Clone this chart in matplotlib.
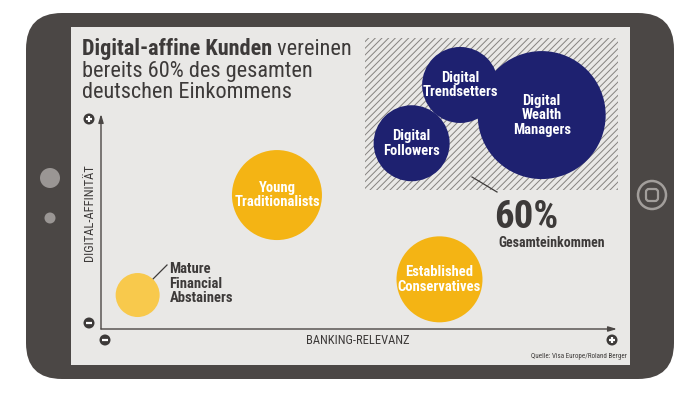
import numpy as np
import matplotlib
matplotlib.use('Agg')
import matplotlib.pyplot as plt
from matplotlib.patches import Rectangle, Circle, FancyBboxPatch

#---------------------------------- DATA -----------------------------------
segments = ['Mature\nFinancial\nAbstainers', 'Young\nTraditionalists', 'Established\nConservatives',
            'Digital\nFollowers', 'Digital\nTrendsetters', 'Digital\nWealth\nManagers']
banking = [7.1, 34.1, 65.6, 60.2, 69.6, 85.4]        # BANKING-RELEVANZ (0-100)
digital = [15.8, 62.3, 23.1, 86.4, 113.5, 99.5]      # DIGITAL-AFFINITAET (0-100)
bubble = [22, 45, 43, 38, 38, 64]                    # relative bubble radius
group = ['light', 'yellow', 'yellow', 'navy', 'navy', 'navy']

title_bold = 'Digital-affine Kunden'
title_rest = [' vereinen', 'bereits 60% des gesamten', 'deutschen Einkommens']
share = '60%'
share_label = 'Gesamteinkommen'
xlabel = 'BANKING-RELEVANZ'
ylabel = 'DIGITAL-AFFINITÄT'
source = 'Quelle: Visa Europe/Roland Berger'

#---------------------------------- SETTING -----------------------------------
plt.rcParams['font.family'] = ['Roboto Condensed', 'DejaVu Sans']
plt.rcParams['hatch.linewidth'] = 0.7
body_c = '#4b4745'
screen_c = '#e9e8e6'
text_c = '#3d3a39'
cols = {'light': '#f8c94c', 'yellow': '#f4b414', 'navy': '#1e2170'}

fig = plt.figure(figsize=(7, 3.93), dpi=100)
fig.patch.set_facecolor('white')

# background axes in pixel units
bg = fig.add_axes([0, 0, 1, 1])
bg.set_xlim(0, 700)
bg.set_ylim(393, 0)
bg.axis('off')

# tablet
bg.add_patch(FancyBboxPatch((26, 13), 648, 366, boxstyle='round,pad=0,rounding_size=36',
                            fc=body_c, ec='none'))
bg.add_patch(Rectangle((71, 27), 559, 338, fc=screen_c, ec='none'))
bg.add_patch(Circle((50, 178), 10, fc='#9a9694', ec='none'))
bg.add_patch(Circle((50, 218), 5.5, fc='#9a9694', ec='none'))
bg.add_patch(Circle((652, 195), 14, fc='none', ec='#a29e9b', lw=1.8))
bg.add_patch(FancyBboxPatch((646, 189), 12, 12, boxstyle='round,pad=0,rounding_size=3',
                            fc='none', ec='#a29e9b', lw=1.6))

# hatched area
bg.add_patch(Rectangle((365, 38), 253, 152, fc=screen_c, ec='#85827f', lw=0, hatch='/////'))

# title
t1 = bg.text(82, 49, title_bold, fontsize=16, fontweight='bold', color=text_c, va='center', ha='left')
bg.annotate(title_rest[0], xy=(1, 0), xycoords=t1, va='bottom', ha='left', fontsize=16, color=text_c)
bg.text(82, 71, title_rest[1], fontsize=16, color=text_c, va='center', ha='left')
bg.text(82, 93, title_rest[2], fontsize=16, color=text_c, va='center', ha='left')

# plus / minus icons
def icon(x, y, plus):
    bg.add_patch(Circle((x, y), 5.5, fc=text_c, ec='none'))
    bg.plot([x - 3, x + 3], [y, y], color='white', lw=1.6, solid_capstyle='butt')
    if plus:
        bg.plot([x, x], [y - 3, y + 3], color='white', lw=1.6, solid_capstyle='butt')

icon(89, 119, True)
icon(89, 323, False)
icon(105, 340, False)
icon(612, 340, True)

bg.text(89, 213, ylabel, rotation=90, fontsize=9, color=text_c, ha='center', va='center')
bg.text(358, 340, xlabel, fontsize=9, color=text_c, ha='center', va='center')
bg.text(627, 357, source, fontsize=5, color=text_c, ha='right', va='center')

# leader lines
bg.plot([143, 167], [289, 265], color=text_c, lw=0.9)
bg.plot([472, 497], [177, 192], color=text_c, lw=0.9)
bg.text(494, 218, share, fontsize=28, fontweight='bold', color=text_c, ha='left', va='center')
bg.text(498, 243, share_label, fontsize=10, fontweight='bold', color=text_c, ha='left', va='center')

#------------------------------------ plot -----------------------------------
ax = fig.add_axes([101 / 700, 64 / 393, 516 / 700, 215 / 393])
ax.set_xlim(0, 100)
ax.set_ylim(0, 100)
ax.axis('off')
ax.patch.set_alpha(0)

sizes = [(2 * r * 0.72) ** 2 for r in bubble]
ax.scatter(banking, digital, s=sizes, c=[cols[g] for g in group], linewidths=0, clip_on=False, zorder=3)

for kk, name in enumerate(segments):
    if group[kk] == 'light':
        ax.annotate(name, (banking[kk], digital[kk]), xytext=(23, 8), textcoords='offset points',
                    fontsize=10.5, fontweight='bold', color=text_c, ha='left', va='center',
                    linespacing=1.05, zorder=4)
    else:
        ax.text(banking[kk], digital[kk], name, fontsize=10.5, fontweight='bold', color='white',
                ha='center', va='center', linespacing=1.05, zorder=4)

# axes arrows
arrow = dict(arrowstyle='-|>,head_length=0.5,head_width=0.15', color=body_c, lw=1.0, shrinkA=0, shrinkB=0)
ax.annotate('', xy=(0, 1), xytext=(0, 0), xycoords='axes fraction', arrowprops=arrow)
ax.annotate('', xy=(1, 0), xytext=(0, 0), xycoords='axes fraction', arrowprops=arrow)

fig.savefig('out.png', dpi=100)
